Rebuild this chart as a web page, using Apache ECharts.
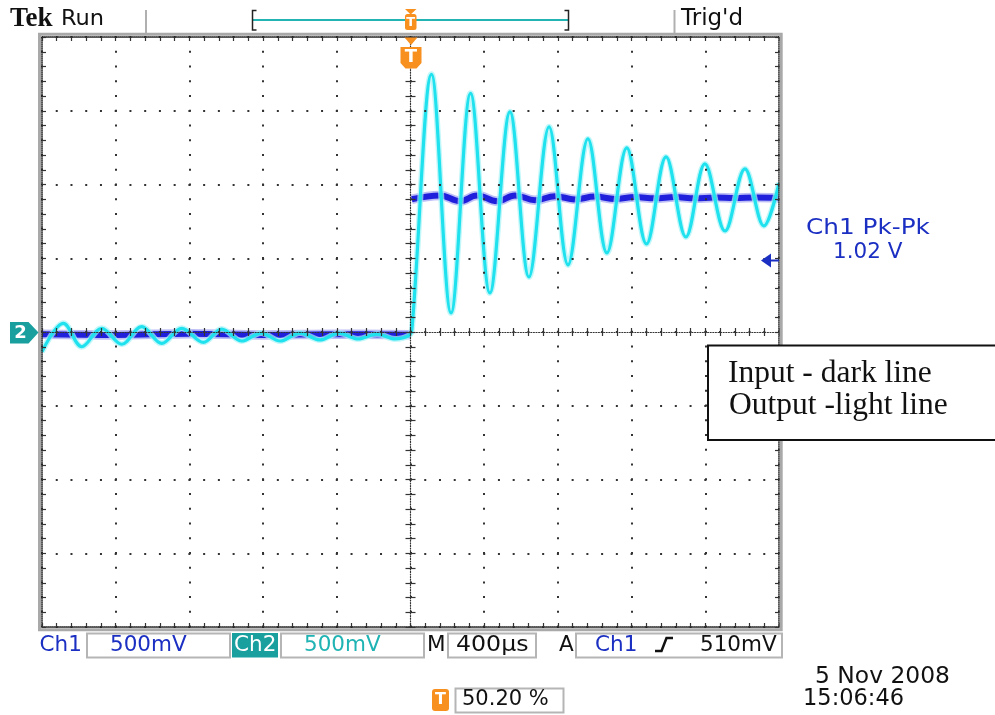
<!DOCTYPE html>
<html>
<head>
<meta charset="utf-8">
<script src="https://cdn.jsdelivr.net/npm/echarts@6/dist/echarts.min.js"></script>
<style>
html,body{margin:0;padding:0;background:#fff;}
#chart{width:995px;height:715px;}
</style>
</head>
<body>
<div id="chart"></div>
<script>
// Time axis in microseconds (400 us/div, trigger at centre), vertical in volts (500 mV/div)
var timeTicks = [-2000, -1600, -1200, -800, -400, 0, 400, 800, 1200, 1600, 2000];
var voltTicks = [-2, -1.5, -1, -0.5, 0, 0.5, 1, 1.5, 2];

// Output (Ch2, light line): peaks and troughs
var outputTime = [
  -2000, -1884, -1784, -1676, -1567, -1459, -1350, -1242, -1124, -1025,
  -916, -811, -708, -600, -491, -388, -285, -182, -84, -10,
  8, 114, 220, 326, 431, 540, 643, 752, 855, 963, 1066, 1174, 1281,
  1387, 1495, 1598, 1707, 1815, 1918, 2000
];
var outputVolts = [
  -0.134, 0.059, -0.100, 0.025, -0.083, 0.036, -0.077, 0.025, -0.070, 0.020,
  -0.061, -0.007, -0.061, -0.007, -0.054, -0.007, -0.047, -0.014, -0.047, -0.025,
  0.020, 1.747, 0.129, 1.618, 0.265, 1.493, 0.373, 1.391, 0.455, 1.309, 0.536, 1.248, 0.597,
  1.187, 0.644, 1.140, 0.685, 1.106, 0.719, 1.010
];

// Input (Ch1, dark line) - '-' marks the gap at the step
var inputTime = [
  -2000, -1600, -1200, -800, -400, 0, 4,
  7, 160, 269, 361, 470, 567, 676, 784, 893, 1001, 1110, 1218, 1327, 1435, 1544, 1652, 1761, 1869, 2000
];
var inputVolts = [
  -0.015, -0.020, -0.012, -0.020, -0.015, -0.018, '-',
  0.900, 0.926, 0.887, 0.926, 0.887, 0.926, 0.893, 0.921, 0.899, 0.918, 0.902, 0.915, 0.906, 0.915, 0.906, 0.912, 0.909, 0.912, 0.909
];

var outputData = outputTime.map(function (t, i) { return [t, outputVolts[i]]; });
var inputData = inputTime.map(function (t, i) { return [t, inputVolts[i]]; });

var G = { left: 42, top: 37, width: 737, height: 590 };
var xMin = timeTicks[0], xMax = timeTicks[timeTicks.length - 1], xInt = timeTicks[1] - timeTicks[0];
var yMin = voltTicks[0], yMax = voltTicks[voltTicks.length - 1], yInt = voltTicks[1] - voltTicks[0];
var GRAT = '#333';
var SANS = '"DejaVu Sans", Verdana, sans-serif';

function grid(i) { return { left: G.left, top: G.top, width: G.width, height: G.height, show: false }; }
function xAx(gi, extra) {
  var o = { gridIndex: gi, type: 'value', min: xMin, max: xMax, interval: xInt, z: 5,
    axisLabel: { show: false }, axisTick: { show: false }, axisLine: { show: false }, splitLine: { show: false } };
  for (var k in extra) o[k] = extra[k];
  return o;
}
function yAx(gi, extra) {
  var o = { gridIndex: gi, type: 'value', min: yMin, max: yMax, interval: yInt, z: 5,
    axisLabel: { show: false }, axisTick: { show: false }, axisLine: { show: false }, splitLine: { show: false } };
  for (var k in extra) o[k] = extra[k];
  return o;
}
var dotLine = { color: GRAT, width: 1.2, type: [1, 1.6] };
var tickStyle = { color: GRAT, width: 1.2 };

var chart = echarts.init(document.getElementById('chart'), null, { renderer: 'canvas' });

function txt(text, x, y, size, color, opts) {
  opts = opts || {};
  var el = { type: 'text', z: 100, x: x, y: y, silent: true,
    style: { text: text, fill: color, font: (opts.weight || 'normal') + ' ' + size + 'px ' + (opts.family || SANS),
      align: opts.align || 'left', verticalAlign: 'middle', textAlign: opts.align || 'left', textVerticalAlign: 'middle' } };
  if (opts.scaleX) el.scaleX = opts.scaleX;
  return el;
}
function rect(x, y, w, h, fill, stroke, lw, r) {
  return { type: 'rect', z: 99, silent: true, shape: { x: x, y: y, width: w, height: h, r: r || 0 },
    style: { fill: fill, stroke: stroke, lineWidth: lw || 0 } };
}
var ORANGE = '#f7901e', TEAL = '#1a9f9f', BLUE = '#1b2fc2';

var graphics = [
  // outer grey frame
  { type: 'rect', z: 90, silent: true, shape: { x: 39.5, y: 34.2, width: 741.7, height: 595.5 }, style: { fill: null, stroke: '#a9a9a9', lineWidth: 3 } },
  // header separators
  { type: 'line', z: 90, shape: { x1: 146, y1: 10, x2: 146, y2: 33 }, style: { stroke: '#b0b0b0', lineWidth: 2 } },
  { type: 'line', z: 90, shape: { x1: 674.5, y1: 10, x2: 674.5, y2: 33 }, style: { stroke: '#b0b0b0', lineWidth: 2 } },
  txt('Tek', 10, 19.5, 27, '#111', { weight: 'bold', family: '"Liberation Serif", serif' }),
  txt('Run', 61, 19.5, 21, '#111', { scaleX: 1.07 }),
  txt("Trig'd", 681, 19.5, 23, '#111'),
  // record bracket
  { type: 'line', z: 95, shape: { x1: 253, y1: 20, x2: 568, y2: 20 }, style: { stroke: '#22b3b3', lineWidth: 2 } },
  { type: 'polyline', z: 96, shape: { points: [[256.5, 10.5], [252.5, 10.5], [252.5, 30], [256.5, 30]] }, style: { stroke: '#222', lineWidth: 1.5, fill: null } },
  { type: 'polyline', z: 96, shape: { points: [[564.5, 10.5], [568.5, 10.5], [568.5, 30], [564.5, 30]] }, style: { stroke: '#222', lineWidth: 1.5, fill: null } },
  { type: 'polygon', z: 97, shape: { points: [[405, 9], [416.5, 9], [410.7, 14.5]] }, style: { fill: ORANGE } },
  rect(405, 14, 11.5, 16, ORANGE, null, 0, 2.5),
  txt('T', 410.8, 22.5, 13, '#fff', { weight: 'bold', align: 'center' }),
  // trigger position marker
  { type: 'polygon', z: 97, shape: { points: [[404.5, 37.5], [417.5, 37.5], [411, 45]] }, style: { fill: ORANGE } },
  { type: 'polygon', z: 97, shape: { points: [[400.5, 47], [421.5, 47], [421.5, 63], [416.5, 68.5], [405.5, 68.5], [400.5, 63]] }, style: { fill: ORANGE } },
  txt('T', 411, 57.5, 18, '#fff', { weight: 'bold', align: 'center' }),
  // channel 2 ground marker
  { type: 'polygon', z: 97, shape: { points: [[10, 322], [28.5, 322], [38.5, 332.5], [28.5, 343.5], [10, 343.5]] }, style: { fill: TEAL } },
  txt('2', 20.5, 333, 18, '#fff', { weight: 'bold', align: 'center' }),
  // trigger level arrow
  { type: 'polygon', z: 97, shape: { points: [[761, 260.5], [771, 253.5], [771, 267.5]] }, style: { fill: BLUE } },
  { type: 'line', z: 97, shape: { x1: 770, y1: 260.5, x2: 779, y2: 260.5 }, style: { stroke: BLUE, lineWidth: 2 } },
  // measurement readout
  txt('Ch1 Pk-Pk', 806, 228.5, 21.5, BLUE, { scaleX: 1.15 }),
  txt('1.02 V', 833, 252, 21.5, BLUE),
  // annotation box
  rect(708, 345.5, 292, 94.5, '#fff', '#111', 2),
  txt('Input - dark line', 728, 374, 31.5, '#111', { family: '"Liberation Serif", "Times New Roman", serif' }),
  txt('Output -light line', 729, 406, 31.5, '#111', { family: '"Liberation Serif", "Times New Roman", serif' }),
  // bottom status bar
  txt('Ch1', 39.5, 645, 21.5, BLUE),
  rect(87, 633.5, 143, 24, '#fff', '#b5b5b5', 2),
  txt('500mV', 110, 645, 21.5, BLUE),
  rect(232, 633, 46, 24.5, TEAL, null, 0),
  txt('Ch2', 234, 645, 21.5, '#fff'),
  rect(281, 633.5, 143, 24, '#fff', '#b5b5b5', 2),
  txt('500mV', 304, 645, 21.5, '#1fb3b3'),
  txt('M', 427, 645, 21.5, '#111'),
  rect(448, 633.5, 88, 24, '#fff', '#b5b5b5', 2),
  txt('400\u00b5s', 456, 645, 21.5, '#111', { scaleX: 1.1 }),
  txt('A', 559, 645, 21.5, '#111'),
  rect(576, 633.5, 206, 24, '#fff', '#b5b5b5', 2),
  txt('Ch1', 595, 645, 21.5, BLUE),
  { type: 'polyline', z: 100, shape: { points: [[655, 651], [661.5, 651], [666.5, 638], [673, 638]] }, style: { stroke: '#111', lineWidth: 2.5, fill: null } },
  txt('510mV', 700, 645, 21.5, '#111'),
  rect(432, 689, 17, 22, ORANGE, null, 0, 3),
  txt('T', 440.5, 700, 16, '#fff', { weight: 'bold', align: 'center' }),
  rect(455.5, 688.5, 108, 24, '#fff', '#b5b5b5', 2),
  txt('50.20 %', 462, 700, 21, '#111'),
  txt('5 Nov 2008', 815, 677, 22.5, '#111', { scaleX: 1.04 }),
  txt('15:06:46', 803, 699, 22.5, '#111')
];

var option = {
  animation: false,
  backgroundColor: '#fff',
  grid: [grid(0), grid(1), grid(2), grid(3)],
  xAxis: [
    // graticule dots
    xAx(0, { splitLine: { show: true, lineStyle: { color: GRAT, width: 2, type: [2, 12.74], dashOffset: 1 } } }),
    // centre line, ticks up
    xAx(1, { axisLine: { show: true, onZero: true, lineStyle: dotLine },
      axisTick: { show: true, inside: true, length: 4, lineStyle: tickStyle },
      minorTick: { show: true, splitNumber: 5, length: 4, lineStyle: tickStyle } }),
    // centre line, ticks down
    xAx(2, { axisLine: { show: false, onZero: true },
      axisTick: { show: true, inside: false, length: 4, lineStyle: tickStyle },
      minorTick: { show: true, splitNumber: 5, length: 4, lineStyle: tickStyle } }),
    // frame top
    xAx(3, { position: 'top', axisLine: { show: true, onZero: false, lineStyle: { color: '#222', width: 1.5, type: [1, 1] } },
      axisTick: { show: true, inside: true, length: 4, lineStyle: tickStyle },
      minorTick: { show: true, splitNumber: 5, length: 4, lineStyle: tickStyle } }),
    // frame bottom
    xAx(3, { position: 'bottom', axisLine: { show: true, onZero: false, lineStyle: { color: '#222', width: 1.5, type: [1, 1] } },
      axisTick: { show: true, inside: true, length: 4, lineStyle: tickStyle },
      minorTick: { show: true, splitNumber: 5, length: 4, lineStyle: tickStyle } })
  ],
  yAxis: [
    yAx(0, { splitLine: { show: true, lineStyle: { color: GRAT, width: 2, type: [2, 12.74], dashOffset: 1 } } }),
    yAx(1, { axisLine: { show: true, onZero: true, lineStyle: dotLine },
      axisTick: { show: true, inside: true, length: 5, lineStyle: tickStyle },
      minorTick: { show: true, splitNumber: 5, length: 5, lineStyle: tickStyle } }),
    yAx(2, { axisLine: { show: false, onZero: true },
      axisTick: { show: true, inside: false, length: 5, lineStyle: tickStyle },
      minorTick: { show: true, splitNumber: 5, length: 5, lineStyle: tickStyle } }),
    yAx(3, { position: 'left', axisLine: { show: true, onZero: false, lineStyle: { color: '#222', width: 1.5, type: [1, 1] } },
      axisTick: { show: true, inside: true, length: 4, lineStyle: tickStyle },
      minorTick: { show: true, splitNumber: 5, length: 4, lineStyle: tickStyle } }),
    yAx(3, { position: 'right', axisLine: { show: true, onZero: false, lineStyle: { color: '#222', width: 1.5, type: [1, 1] } },
      axisTick: { show: true, inside: true, length: 4, lineStyle: tickStyle },
      minorTick: { show: true, splitNumber: 5, length: 4, lineStyle: tickStyle } })
  ],
  series: [
    { name: 'Input glow', type: 'line', xAxisIndex: 0, yAxisIndex: 0, data: inputData, smooth: 0.4, showSymbol: false, silent: true,
      lineStyle: { color: '#a3a3f3', width: 9.5, opacity: 0.7 }, z: 2 },
    { name: 'Input', type: 'line', xAxisIndex: 0, yAxisIndex: 0, data: inputData, smooth: 0.4, showSymbol: false, silent: true,
      lineStyle: { color: '#2020dc', width: 6 }, z: 2 },
    { name: 'Output glow', type: 'line', xAxisIndex: 0, yAxisIndex: 0, data: outputData, smooth: 0.36, showSymbol: false, silent: true,
      lineStyle: { color: '#a8f4f8', width: 6, opacity: 0.7 }, z: 3 },
    { name: 'Output', type: 'line', xAxisIndex: 0, yAxisIndex: 0, data: outputData, smooth: 0.36, showSymbol: false, silent: true,
      lineStyle: { color: '#1fe2ee', width: 3.2 }, z: 3 }
  ],
  graphic: graphics
};
chart.setOption(option);
</script>
</body>
</html>
